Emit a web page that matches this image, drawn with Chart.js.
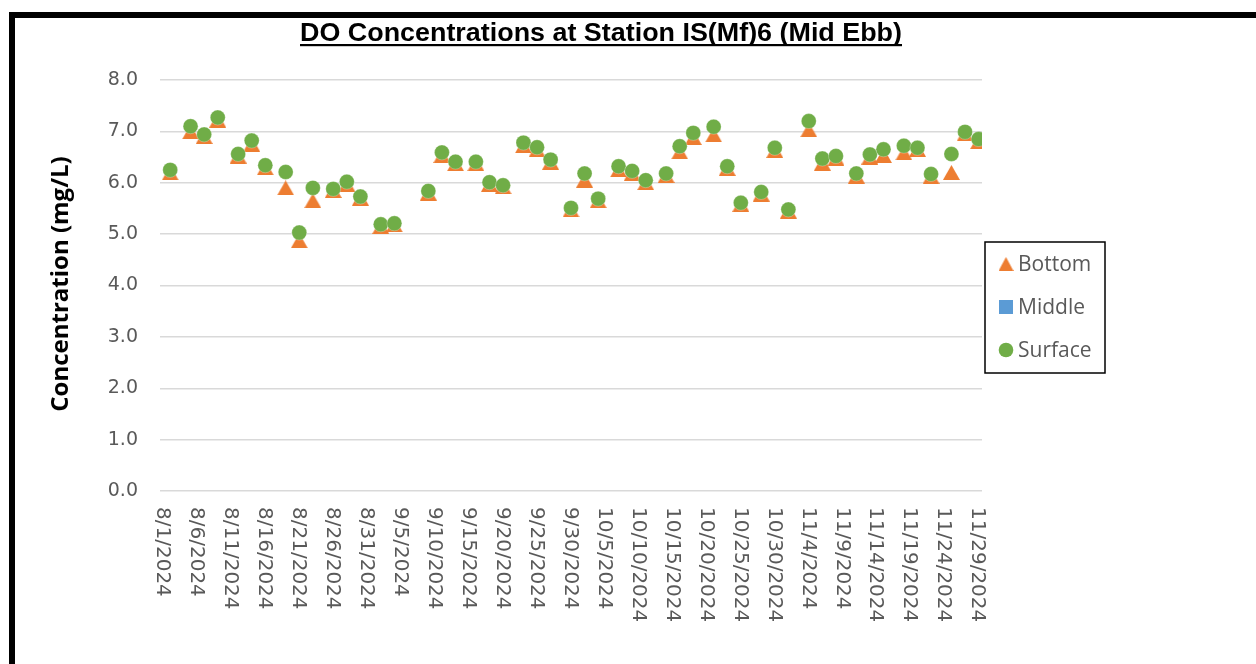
<!DOCTYPE html>
<html>
<head>
<meta charset="utf-8">
<script src="https://cdn.jsdelivr.net/npm/chart.js@4/dist/chart.umd.min.js"></script>
<style>
html,body{margin:0;padding:0;background:#fff;}
canvas{display:block;}
</style>
</head>
<body>
<canvas id="c" width="1256" height="664"></canvas>
<script>
// ---- Data ----
const sampleDates = ["2024-08-02","2024-08-05","2024-08-07","2024-08-09","2024-08-12","2024-08-14","2024-08-16","2024-08-19","2024-08-21","2024-08-23","2024-08-26","2024-08-28","2024-08-30","2024-09-02","2024-09-04","2024-09-09","2024-09-11","2024-09-13","2024-09-16","2024-09-18","2024-09-20","2024-09-23","2024-09-25","2024-09-27","2024-09-30","2024-10-02","2024-10-04","2024-10-07","2024-10-09","2024-10-11","2024-10-14","2024-10-16","2024-10-18","2024-10-21","2024-10-23","2024-10-25","2024-10-28","2024-10-30","2024-11-01","2024-11-04","2024-11-06","2024-11-08","2024-11-11","2024-11-13","2024-11-15","2024-11-18","2024-11-20","2024-11-22","2024-11-25","2024-11-27","2024-11-29"];
const surfaceValues = [6.25,7.10,6.94,7.27,6.56,6.82,6.34,6.21,5.03,5.90,5.88,6.02,5.73,5.19,5.21,5.84,6.59,6.41,6.41,6.01,5.95,6.78,6.69,6.45,5.51,6.18,5.69,6.32,6.23,6.05,6.18,6.71,6.97,7.09,6.32,5.61,5.82,6.68,5.48,7.20,6.47,6.52,6.18,6.55,6.65,6.72,6.68,6.17,6.56,6.99,6.85];
const middleValues = [];
const bottomValues = [6.19,6.99,6.90,7.22,6.52,6.75,6.29,5.90,4.87,5.65,5.85,5.97,5.70,5.15,5.18,5.80,6.53,6.37,6.37,5.97,5.92,6.72,6.64,6.40,5.47,6.05,5.65,6.25,6.18,6.00,6.14,6.60,6.88,6.93,6.28,5.58,5.78,6.63,5.45,7.03,6.38,6.48,6.13,6.50,6.53,6.58,6.65,6.12,6.20,6.95,6.80];
const axisStartDate = "2024-08-01";
const axisEndDate = "2024-11-29";
const tickStepDays = 5;
const yTicks = [0,1,2,3,4,5,6,7,8];
const seriesNames = ["Bottom","Middle","Surface"];
const chartTitle = "DO Concentrations at Station IS(Mf)6 (Mid Ebb)";
const yTitle = "Concentration (mg/L)";

// ---- helpers ----
const DAY = 86400000;
const t0 = Date.parse(axisStartDate + "T00:00:00Z");
const tEnd = Date.parse(axisEndDate + "T00:00:00Z");
const dayOf = s => Math.round((Date.parse(s + "T00:00:00Z") - t0) / DAY);
const lastDay = Math.round((tEnd - t0) / DAY);
const fmtDay = d => { const dt = new Date(t0 + d * DAY); return (dt.getUTCMonth()+1) + "/" + dt.getUTCDate() + "/" + dt.getUTCFullYear(); };
const toPts = vals => vals.map((v,i) => ({x: dayOf(sampleDates[i]), y: v}));

const ORANGE = "#ed7d31", BLUE = "#5b9bd5", GREEN = "#70ad47";

function triangleImg(w, h, color){
  const c = document.createElement("canvas");
  c.width = w; c.height = h;
  const g = c.getContext("2d");
  g.fillStyle = color;
  g.beginPath(); g.moveTo(w/2, 0); g.lineTo(w, h); g.lineTo(0, h); g.closePath(); g.fill();
  return c;
}
function squareImg(s, color){
  const c = document.createElement("canvas");
  c.width = s; c.height = s;
  const g = c.getContext("2d");
  g.fillStyle = color; g.fillRect(0,0,s,s);
  return c;
}
const triMarker = triangleImg(17, 15, ORANGE);
const legTri = triangleImg(15, 14, ORANGE);
const sqMarker = squareImg(14, BLUE);

const decor = {
  id: "decor",
  beforeDraw(chart){
    const ctx = chart.ctx;
    ctx.save();
    ctx.fillStyle = "#fff";
    ctx.fillRect(0,0,chart.width,chart.height);
    ctx.fillStyle = "#000";
    ctx.fillRect(9, 12, chart.width - 9, 6);
    ctx.fillRect(9, 12, 6, chart.height - 12);
    ctx.restore();
  },
  afterDraw(chart){
    const ctx = chart.ctx;
    const xs = chart.scales.x;
    ctx.save();
    // Title (condensed bold)
    ctx.font = "bold 25px 'Liberation Sans Narrow', 'Arial Narrow', 'Liberation Sans', sans-serif";
    ctx.fillStyle = "#000";
    ctx.textAlign = "center";
    ctx.textBaseline = "alphabetic";
    const tx = 601, ty = 41, targetW = 602;
    const rawW = ctx.measureText(chartTitle).width;
    const sx = targetW / rawW;
    ctx.save();
    ctx.translate(tx, ty);
    ctx.scale(sx, 1);
    ctx.fillText(chartTitle, 0, 0);
    ctx.restore();
    ctx.fillRect(tx - targetW/2, ty + 3, targetW, 2.2);

    // Y axis title
    ctx.save();
    ctx.translate(61, 284);
    ctx.rotate(-Math.PI/2);
    ctx.font = "bold 24px 'Open Sans', sans-serif";
    ctx.textAlign = "center";
    ctx.textBaseline = "middle";
    ctx.fillText(yTitle, 0, 0);
    ctx.restore();

    // X tick labels (rotated clockwise)
    ctx.font = "20px 'DejaVu Sans', sans-serif";
    ctx.fillStyle = "#595959";
    for (let d = 0; d <= lastDay; d += tickStepDays){
      const x = xs.getPixelForValue(d);
      ctx.save();
      ctx.translate(x, 507);
      ctx.rotate(Math.PI/2);
      ctx.textAlign = "left";
      ctx.textBaseline = "middle";
      ctx.fillText(fmtDay(d), 0, 1);
      ctx.restore();
    }

    // Legend
    const lx = 985, ly = 242, lw = 120, lh = 131;
    ctx.strokeStyle = "#000";
    ctx.lineWidth = 1.5;
    ctx.strokeRect(lx, ly, lw, lh);
    const rows = [264, 307, 350];
    ctx.drawImage(legTri, 1006 - 7.5, rows[0] - 7);
    ctx.drawImage(sqMarker, 1006 - 7, rows[1] - 7);
    ctx.fillStyle = GREEN;
    ctx.beginPath(); ctx.arc(1006, rows[2], 7.3, 0, Math.PI*2); ctx.fill();
    ctx.font = "21px 'Open Sans', sans-serif";
    ctx.fillStyle = "#595959";
    ctx.textAlign = "left";
    ctx.textBaseline = "middle";
    seriesNames.forEach((n,i) => ctx.fillText(n, 1018, rows[i] + 1));
    ctx.restore();
  }
};

new Chart(document.getElementById("c"), {
  type: "scatter",
  data: {
    datasets: [
      { label: seriesNames[0], data: toPts(bottomValues), pointStyle: triMarker, pointRadius: 8.5, backgroundColor: ORANGE, borderColor: ORANGE, order: 3 },
      { label: seriesNames[1], data: toPts(middleValues), pointStyle: sqMarker, pointRadius: 7, backgroundColor: BLUE, borderColor: BLUE, order: 2 },
      { label: seriesNames[2], data: toPts(surfaceValues), pointStyle: "circle", pointRadius: 7.5, backgroundColor: GREEN, borderColor: "rgba(255,255,255,0.35)", borderWidth: 0.8, order: 1 }
    ]
  },
  options: {
    responsive: false,
    animation: false,
    events: [],
    layout: { padding: { left: 0, right: 274, top: 80, bottom: 0 } },
    plugins: { legend: { display: false }, title: { display: false }, tooltip: { enabled: false } },
    scales: {
      x: {
        type: "linear",
        min: -0.5,
        max: lastDay + 0.5,
        grid: { display: false },
        border: { display: false },
        ticks: { display: false },
        afterFit(s){ s.height = 173; }
      },
      y: {
        min: yTicks[0],
        max: yTicks[yTicks.length-1],
        afterBuildTicks(s){ s.ticks = yTicks.map(v => ({value: v})); },
        grid: { color: "#d9d9d9", lineWidth: 1.5, drawTicks: false },
        border: { display: false },
        ticks: {
          padding: 22,
          color: "#595959",
          font: { family: "'DejaVu Sans', sans-serif", size: 19 },
          callback: v => Number(v).toFixed(1)
        },
        afterFit(s){ s.width = 160; }
      }
    }
  },
  plugins: [decor]
});
</script>
</body>
</html>
